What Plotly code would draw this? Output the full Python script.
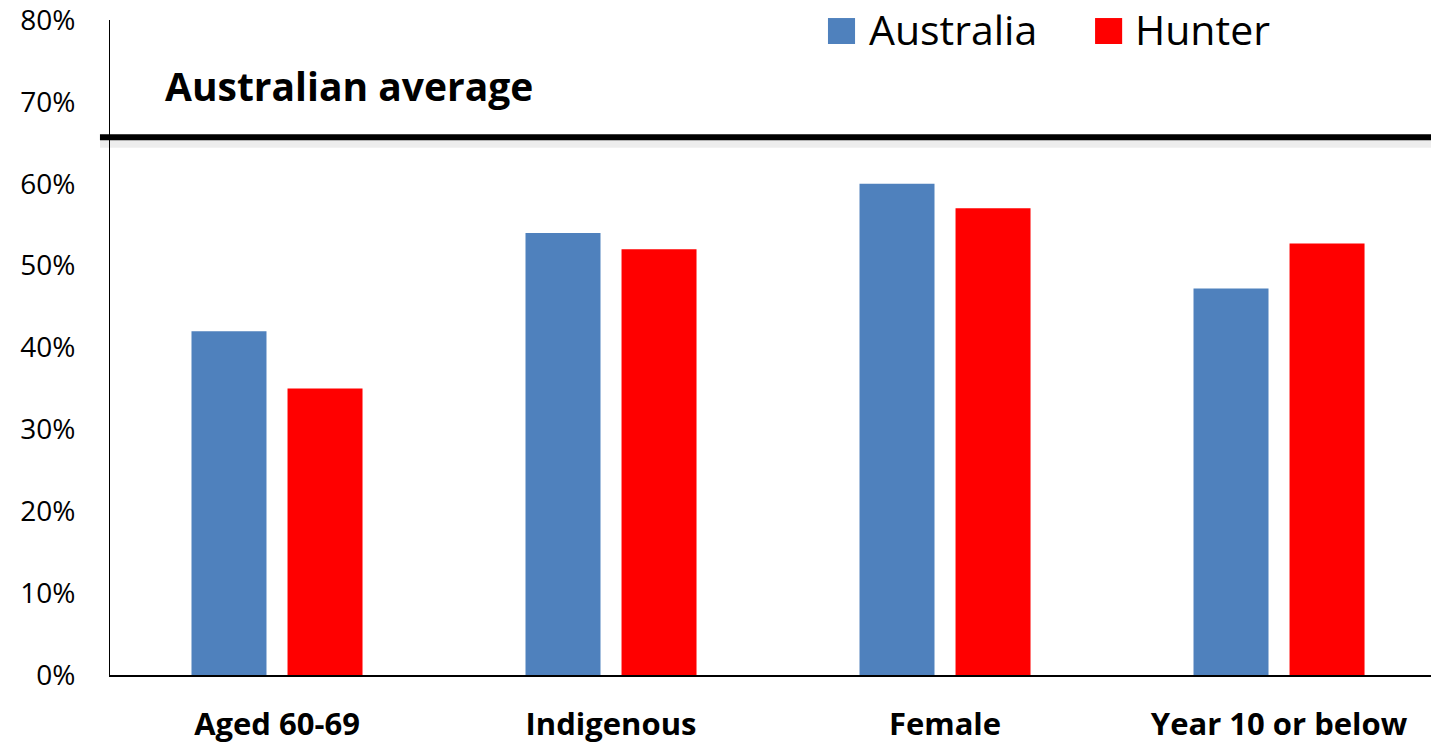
import plotly.graph_objects as go

categories = ["Aged 60-69", "Indigenous", "Female", "Year 10 or below"]
australia = [0.42, 0.54, 0.60, 0.472]
hunter = [0.35, 0.52, 0.57, 0.527]
australian_average = 0.657
y_ticks = [0, 0.1, 0.2, 0.3, 0.4, 0.5, 0.6, 0.7, 0.8]
series_names = ["Australia", "Hunter"]
colors = ["#4F81BD", "#FF0000"]

FONT = "Open Sans"

fig = go.Figure()
for name, vals, col in zip(series_names, [australia, hunter], colors):
    fig.add_trace(go.Bar(x=categories, y=vals, name=name, marker_color=col,
                         marker_line_width=0, showlegend=False, hoverinfo="skip"))

# average line (with a soft shadow)
fig.add_shape(type="line", xref="paper", yref="y", x0=-0.0076, x1=1,
              y0=australian_average - 0.008, y1=australian_average - 0.008,
              line=dict(color="rgba(0,0,0,0.07)", width=8), layer="above")
fig.add_shape(type="line", xref="paper", yref="y", x0=-0.0076, x1=1,
              y0=australian_average, y1=australian_average,
              line=dict(color="black", width=6), layer="above")
fig.add_annotation(text="<b>Australian average</b>", xref="paper", yref="y",
                   x=0.040, y=australian_average + 0.063, xanchor="left",
                   yanchor="middle", showarrow=False,
                   font=dict(family=FONT, size=39, color="black"))

# manual legend (large square swatches)
legend_x = [(0.5435, 0.5640, 0.5730), (0.7457, 0.7662, 0.7744)]
for name, col, (sx0, sx1, tx) in zip(series_names, colors, legend_x):
    fig.add_shape(type="rect", xref="paper", yref="paper", x0=sx0, x1=sx1,
                  y0=0.9634, y1=1.003, fillcolor=col, line_width=0)
    fig.add_annotation(text=name, xref="paper", yref="paper", x=tx, y=0.9855,
                       xanchor="left", yanchor="middle", showarrow=False,
                       font=dict(family=FONT, size=41, color="black"))

fig.update_layout(
    width=1431, height=744, autosize=False,
    margin=dict(l=110, r=0, t=20, b=63),
    paper_bgcolor="white", plot_bgcolor="white",
    barmode="group", bargap=0.425, bargroupgap=0.219,
    font=dict(family=FONT, color="black"),
    showlegend=False,
    xaxis=dict(range=[-0.5, 3.455], showline=True, linecolor="black", linewidth=2,
               showgrid=False, ticks="", tickfont=dict(family=FONT, size=31, color="black"),
               ticklabelstandoff=21, tickprefix="<b>", ticksuffix="</b>",
               fixedrange=True),
    yaxis=dict(range=[0, 0.8001], tickvals=y_ticks, tickformat=".0%", showline=True,
               linecolor="black", linewidth=1, showgrid=False, zeroline=False,
               ticks="", tickfont=dict(family=FONT, size=28, color="black"),
               ticklabelstandoff=28, ticklabeloverflow="allow", fixedrange=True),
)

fig.write_html("out.html", config={"displayModeBar": False},
               post_script="document.body.style.margin='0';document.body.style.overflow='hidden';")
